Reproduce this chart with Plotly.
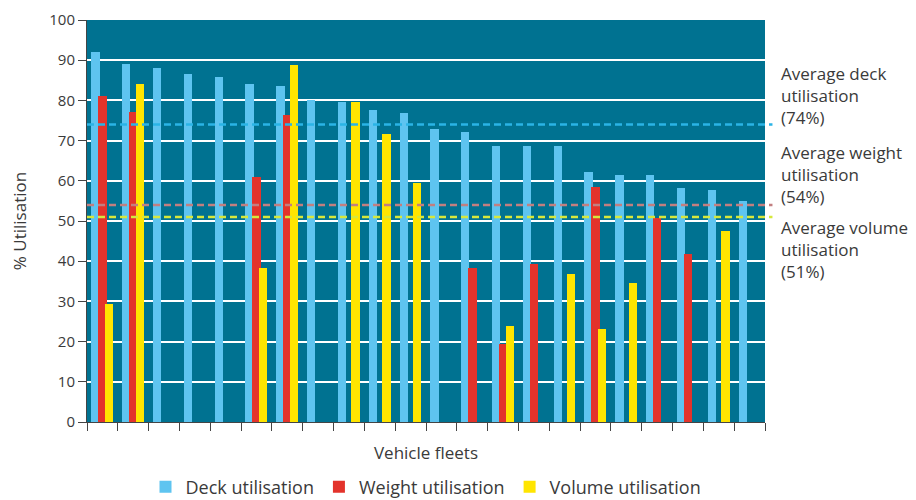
import plotly.graph_objects as go

categories = [f"Fleet {i+1}" for i in range(22)]
deck = [92, 89, 88, 86.5, 85.7, 84.2, 83.5, 80.2, 79.5, 77.7, 76.8, 72.9, 72.1, 68.7, 68.7, 68.7, 62.1, 61.4, 61.4, 58.3, 57.6, 54.9]
weight = [81, 77, None, None, None, 61, 76.4, None, None, None, None, None, 38.3, 19.5, 39.4, None, 58.4, None, 50.8, 41.7, None, None]
volume = [29.4, 84.2, None, None, None, 38.3, 88.8, None, 79.5, 71.7, 59.4, None, None, 24, None, 36.8, 23.2, 34.7, None, None, 47.5, None]
series_names = ["Deck utilisation", "Weight utilisation", "Volume utilisation"]
averages = [74, 54, 51]
avg_labels = ["Average deck<br>utilisation<br>(74%)", "Average weight<br>utilisation<br>(54%)", "Average volume<br>utilisation<br>(51%)"]
y_ticks = list(range(0, 101, 10))

FONT = "Open Sans"
TXT = "#3a3a3a"
bar_colors = ["#5ec4f0", "#e3332b", "#ffe500"]
line_colors = ["#2ab4e6", "#c27f80", "#d6e83c"]
offsets = [-0.36, -0.13, 0.08]
W = 0.27

fig = go.Figure()
for name, vals, col, off in zip(series_names, [deck, weight, volume], bar_colors, offsets):
    fig.add_trace(go.Bar(x=categories, y=vals, name=name, marker=dict(color=col, line=dict(width=0)),
                         offset=off, width=W))

for v, col in zip(averages, line_colors):
    fig.add_shape(type="line", xref="paper", yref="y", x0=0, x1=1.011, y0=v, y1=v,
                  line=dict(color=col, width=2.5, dash="7px,4px"), layer="above")

for lab, yc in zip(avg_labels, [81.3, 61.5, 42.8]):
    fig.add_annotation(text=lab, xref="paper", yref="y", x=1.0236, y=yc, xanchor="left", yanchor="middle",
                       align="left", showarrow=False, xshift=-2, font=dict(family=FONT, size=17, color=TXT))

# page body has an 8px default margin, so the figure is offset by 8px
fig.update_layout(
    width=908, height=492,
    margin=dict(l=79, r=151, t=12, b=78),
    paper_bgcolor="white", plot_bgcolor="#007291",
    barmode="overlay", bargap=0,
    font=dict(family=FONT, size=16, color=TXT),
    showlegend=True,
    legend=dict(orientation="h", x=0.5, xanchor="center", xref="paper",
                y=0.0264, yanchor="middle", yref="container",
                font=dict(family=FONT, size=18, color=TXT), traceorder="normal"),
)
fig.update_xaxes(type="category", categoryorder="array", categoryarray=categories,
                 tickson="boundaries", ticks="outside", ticklen=8, tickcolor="#444",
                 showticklabels=False, showgrid=False, showline=True, linecolor="#444",
                 automargin=False,
                 title=dict(text="Vehicle fleets", standoff=25, font=dict(family=FONT, size=17, color=TXT)))
fig.update_yaxes(range=[0, 100], tickvals=y_ticks, ticks="outside", ticklen=8, tickcolor="#444",
                 showgrid=True, gridcolor="white", gridwidth=1.5, zeroline=False,
                 showline=True, linecolor="#444", automargin=False, ticklabeloverflow="allow",
                 tickfont=dict(family=FONT, size=15, color=TXT),
                 title=dict(text="% Utilisation", standoff=28, font=dict(family=FONT, size=17, color=TXT)))

fig.write_html("out.html")
